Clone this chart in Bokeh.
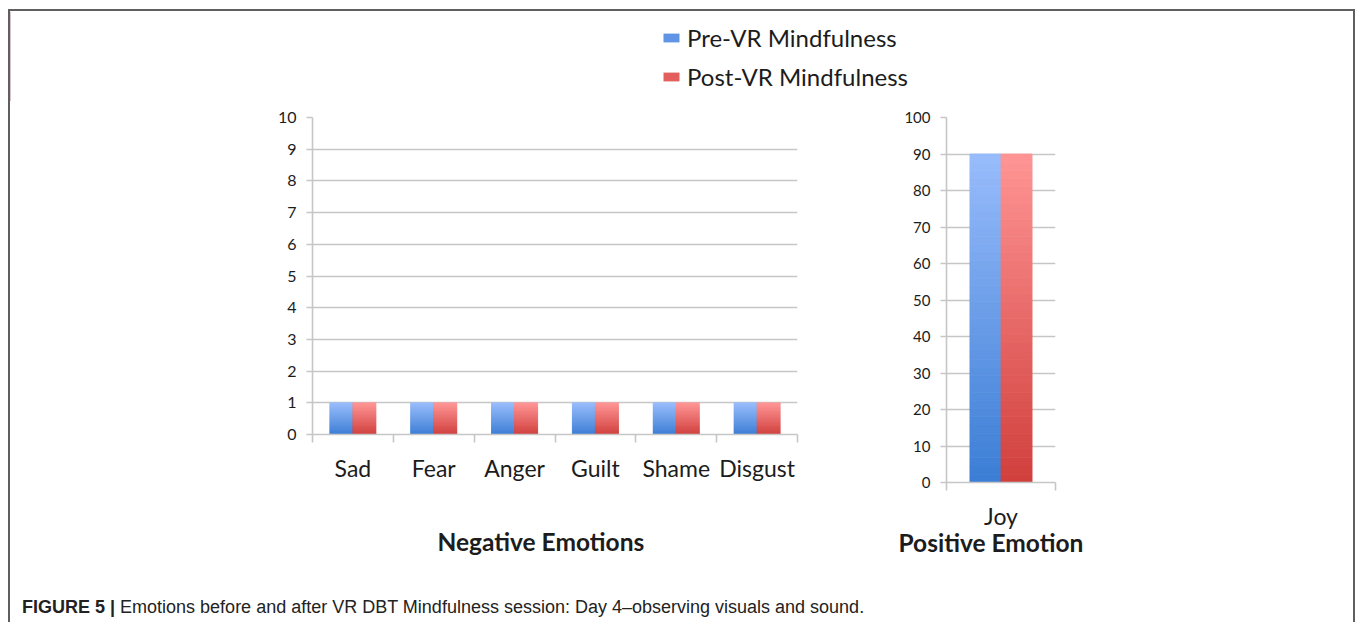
import numpy as np
from bokeh.plotting import figure
from bokeh.models import Range1d, FixedTicker, Legend, LegendItem, ColumnDataSource, Div, Title
from bokeh.layouts import column, row
from bokeh.embed import file_html
from bokeh.resources import INLINE

# ---------------- data ----------------
neg_categories = ["Sad", "Fear", "Anger", "Guilt", "Shame", "Disgust"]
neg_pre = [1, 1, 1, 1, 1, 1]
neg_post = [1, 1, 1, 1, 1, 1]
pos_categories = ["Joy"]
pos_pre = [90]
pos_post = [90]
neg_ticks = list(range(0, 11))
pos_ticks = list(range(0, 101, 10))
series_names = ["Pre-VR Mindfulness", "Post-VR Mindfulness"]
neg_title = "Negative Emotions"
pos_title = "Positive Emotion"
caption_bold = "FIGURE 5 |"
caption_text = "Emotions before and after VR DBT Mindfulness session: Day 4\u2013observing visuals and sound."

# ---------------- style ----------------
PRE_TOP, PRE_BOT = "#98bcfb", "#3b7dd5"
POST_TOP, POST_BOT = "#ff9595", "#d03f3c"
PRE_MID, POST_MID = "#5f95e4", "#e25f5d"
GRID = "#c6c6c6"
TXT = "#1c1c1c"
FRAME = "#5f5f5f"
FONT = "Lato"
BAR_W = 0.285
N_SLICES = 40


def hex2rgb(h):
    return np.array([int(h[i:i + 2], 16) for i in (1, 3, 5)], dtype=float)


def gradient_source(centers, values, top_hex, bot_hex, n=N_SLICES):
    t, b = hex2rgb(top_hex), hex2rgb(bot_hex)
    xs, tops, bots, cols = [], [], [], []
    for c, v in zip(centers, values):
        for k in range(n):
            f = (k + 0.5) / n
            rgb = b + (t - b) * f
            xs.append(c)
            bots.append(v * k / n)
            tops.append(v * (k + 1) / n)
            cols.append("#%02x%02x%02x" % tuple(int(round(u)) for u in rgb))
    return ColumnDataSource(dict(x=xs, top=tops, bottom=bots, color=cols))


def make_chart(cats, pre, post, ticks, title, width, height, mbl, mbr, mbt, mbb,
               tick_font, cat_font, title_offset, title_standoff):
    n = len(cats)
    p = figure(width=width, height=height, x_range=Range1d(-0.5, n - 0.5),
               y_range=Range1d(ticks[0], ticks[-1]), output_backend="svg",
               toolbar_location=None, min_border_left=mbl, min_border_right=mbr,
               min_border_top=mbt, min_border_bottom=mbb)
    p.frame_align = False
    p.outline_line_color = None
    p.background_fill_color = "white"
    p.border_fill_color = None
    centers = list(range(n))
    src_pre = gradient_source([c - BAR_W / 2 for c in centers], pre, PRE_TOP, PRE_BOT)
    src_post = gradient_source([c + BAR_W / 2 for c in centers], post, POST_TOP, POST_BOT)
    for src in (src_pre, src_post):
        p.vbar(x="x", top="top", bottom="bottom", width=BAR_W, source=src,
               fill_color="color", line_color="color", line_width=0.8)

    p.xgrid.visible = False
    p.ygrid.ticker = FixedTicker(ticks=ticks)
    p.ygrid.grid_line_color = GRID
    p.ygrid.grid_line_width = 1.6
    p.ygrid.level = "underlay"

    ya = p.yaxis[0]
    ya.ticker = FixedTicker(ticks=ticks, minor_ticks=[])
    ya.axis_line_color = GRID
    ya.axis_line_width = 1.6
    ya.major_tick_line_color = GRID
    ya.major_tick_line_width = 1.6
    ya.major_tick_in = 0
    ya.major_tick_out = 6
    ya.minor_tick_line_color = None
    ya.major_label_text_font = FONT
    ya.major_label_text_font_size = tick_font
    ya.major_label_text_color = TXT
    ya.major_label_standoff = 10

    xa = p.xaxis[0]
    xa.ticker = FixedTicker(ticks=centers, minor_ticks=[c - 0.5 for c in range(n + 1)])
    xa.major_label_overrides = {c: cats[c] for c in centers}
    xa.axis_line_color = GRID
    xa.axis_line_width = 1.6
    xa.major_tick_line_color = None
    xa.major_tick_in = 0
    xa.major_tick_out = 0
    xa.minor_tick_line_color = GRID
    xa.minor_tick_line_width = 1.6
    xa.minor_tick_in = 0
    xa.minor_tick_out = 8
    xa.major_label_text_font = FONT
    xa.major_label_text_font_size = cat_font
    xa.major_label_text_color = TXT
    xa.major_label_standoff = 11

    t = Title(text=title, align="left", offset=title_offset, standoff=title_standoff,
              text_font=FONT, text_font_style="bold", text_font_size="24.5px",
              text_color=TXT)
    p.add_layout(t, "below")
    return p


ROW_H = 497
left = make_chart(neg_categories, neg_pre, neg_post, neg_ticks, neg_title,
                  830, ROW_H, 302, 43, 16, ROW_H - 16 - 317, "16px", "23px", 125, 81)
right = make_chart(pos_categories, pos_pre, pos_post, pos_ticks, pos_title,
                   513, ROW_H, 106, 298, 16, ROW_H - 16 - 365, "15px", "23px", -48, -14)

# ---------------- legend strip ----------------
INNER_W = 1343
leg = figure(width=INNER_W, height=90, x_range=Range1d(0, 1), y_range=Range1d(0, 1),
             output_backend="svg", toolbar_location=None, min_border=0,
             x_axis_location=None, y_axis_location=None)
leg.grid.visible = False
leg.outline_line_color = None
# legend proxies, placed outside the visible range of this legend strip
r_pre = leg.vbar(x=[-5], top=[1], width=0.1, fill_color=PRE_MID, line_color=None)
r_post = leg.vbar(x=[-5], top=[1], width=0.1, fill_color=POST_MID, line_color=None)
legend = Legend(items=[LegendItem(label=series_names[0], renderers=[r_pre]),
                       LegendItem(label=series_names[1], renderers=[r_post])],
                location=(651, 10), padding=0, margin=0, border_line_color=None,
                background_fill_alpha=0, glyph_width=20, glyph_height=11,
                label_height=25, spacing=10, label_standoff=6,
                label_text_font=FONT, label_text_font_size="24px",
                label_text_color=TXT)
leg.add_layout(legend, "center")

CAP_H = 24
cap = Div(text=('<div style="padding:0 0 0 12px; line-height:18px; font-family:\'Liberation Sans Narrow\','
                'Arial Narrow,sans-serif; font-size:18px; color:#222; white-space:nowrap;">'
                '<b>' + caption_bold + '</b> ' + caption_text + '</div>'),
          width=INNER_W, height=CAP_H, margin=0)

TOTAL_H = 2 + 90 + ROW_H + CAP_H
line_style = {"background-color": FRAME, "position": "relative", "z-index": "100"}
top_line = Div(text="", width=INNER_W, height=2, margin=0, styles=dict(line_style))
left_line = Div(text="", width=2, height=TOTAL_H, margin=0, styles=dict(line_style))
right_line = Div(text="", width=2, height=TOTAL_H, margin=0, styles=dict(line_style))

page = row(left_line, column(top_line, leg, row(left, right), cap), right_line,
           styles={"margin-left": "8px", "margin-top": "9px"})

open("out.html", "w").write(file_html(page, INLINE))
